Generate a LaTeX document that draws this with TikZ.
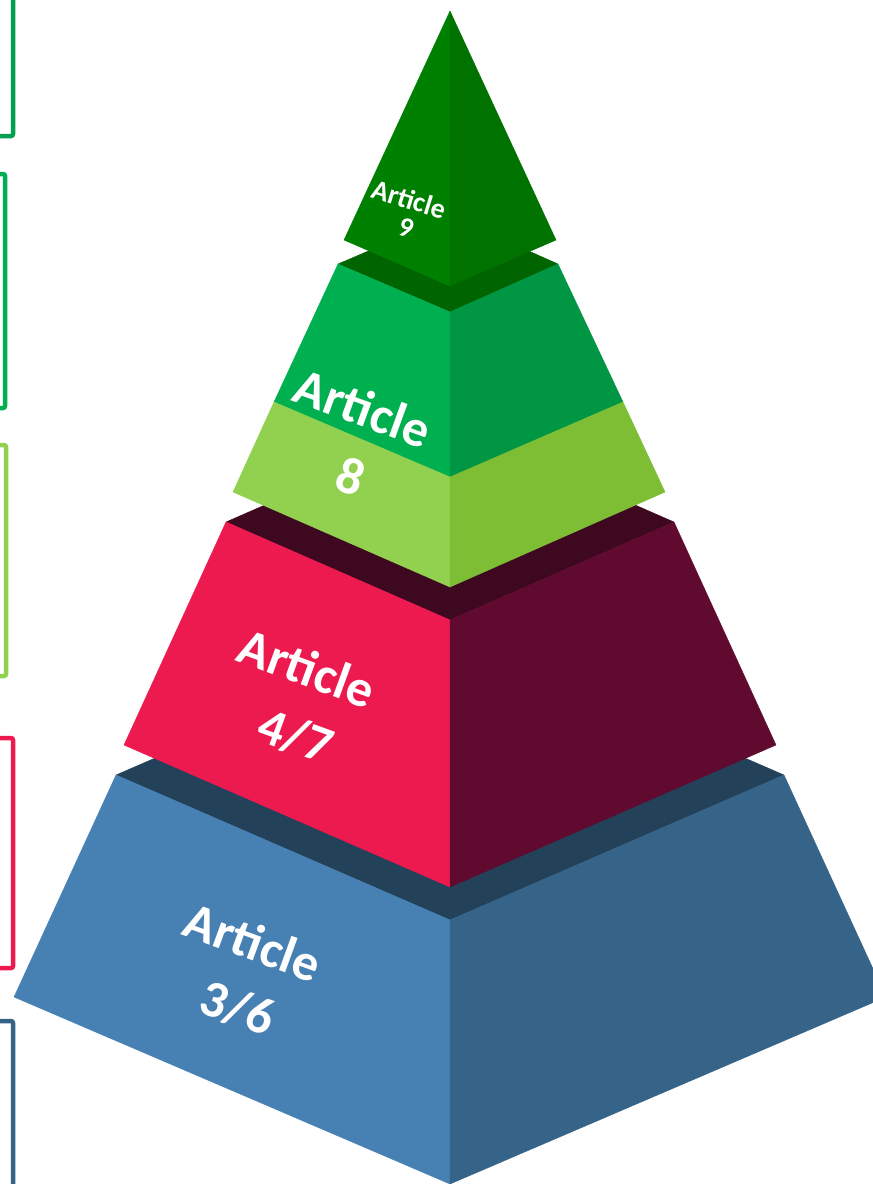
\documentclass[tikz,border=0pt]{standalone}
\usepackage{fontspec}
\setmainfont{Carlito}
\definecolor{g9l}{HTML}{008000}
\definecolor{g9r}{HTML}{007200}
\definecolor{g8t}{HTML}{006400}
\definecolor{g8l}{HTML}{00B050}
\definecolor{g8r}{HTML}{009644}
\definecolor{l8l}{HTML}{92D050}
\definecolor{l8r}{HTML}{7DBE35}
\definecolor{r7t}{HTML}{3E0820}
\definecolor{r7l}{HTML}{ED1A50}
\definecolor{r7r}{HTML}{600A30}
\definecolor{b6t}{HTML}{234159}
\definecolor{b6l}{HTML}{4781B4}
\definecolor{b6r}{HTML}{366489}
\definecolor{br1}{HTML}{00A050}
\begin{document}
\begin{tikzpicture}[x=1pt,y=-1pt,
  facel/.style={fill=#1,draw=#1,line width=0.4pt,line join=round},
  lbl/.style={text=white,inner sep=0pt,rotate=-20,font=\bfseries\fontsize{52}{60}\selectfont},
  lblsmall/.style={text=white,inner sep=0pt,rotate=-17,font=\bfseries\fontsize{28}{32}\selectfont},
  brk/.style={line width=4.5pt,rounded corners=2pt}]
\useasboundingbox (0,0) rectangle (873,1184);
\clip (0,0) rectangle (873,1184);
% side brackets
\draw[brk,draw=br1] (-10,136) -- (13,136) -- (13,-10);
\draw[brk,draw=g8l] (-10,174) -- (5,174) -- (5,408) -- (-10,408);
\draw[brk,draw=l8l] (-10,445) -- (6,445) -- (6,676) -- (-10,676);
\draw[brk,draw=r7l] (-10,738) -- (13,738) -- (13,968) -- (-10,968);
\draw[brk,draw=b6r] (-10,1021) -- (13,1021) -- (13,1200);
% tier 3/6
\draw[facel=b6t] (116,775) -- (450,630) -- (784,775) -- (450,920) -- cycle;
\draw[facel=b6l] (14,997) -- (450,1184) -- (450,920) -- (116,775) -- cycle;
\draw[facel=b6r] (450,1184) -- (886,997) -- (784,775) -- (450,920) -- cycle;
% tier 4/7
\draw[facel=r7t] (226,522) -- (450,424) -- (674,522) -- (450,620) -- cycle;
\draw[facel=r7l] (124,745) -- (450,887) -- (450,620) -- (226,522) -- cycle;
\draw[facel=r7r] (450,887) -- (776,745) -- (674,522) -- (450,620) -- cycle;
% tier 8
\draw[facel=g8t] (338,264) -- (450,216) -- (558,264) -- (450,312) -- cycle;
\draw[facel=g8l] (338,264) -- (450,312) -- (450,477) -- (274,402) -- cycle;
\draw[facel=g8r] (558,264) -- (450,312) -- (450,477) -- (623,402) -- cycle;
\draw[facel=l8l] (274,402) -- (450,477) -- (450,587) -- (233,492) -- cycle;
\draw[facel=l8r] (623,402) -- (450,477) -- (450,587) -- (665,492) -- cycle;
% tier 9
\draw[facel=g9l] (450,11) -- (344,240) -- (450,286) -- cycle;
\draw[facel=g9r] (450,11) -- (556,240) -- (450,286) -- cycle;
% labels
\node[lblsmall] (t9a) at (409,199) {Article};
\node[lblsmall] (t9b) at (406,228) {9};
\node[lbl] (t8a) at (363,408) {Article};
\node[lbl] (t8b) at (351,476) {8};
\node[lbl] (t47a) at (307,668) {Article};
\node[lbl] (t47b) at (296,736) {4/7};
\node[lbl] (t36a) at (253,942) {Article};
\node[lbl] (t36b) at (238,1008) {3/6};
\end{tikzpicture}
\end{document}
